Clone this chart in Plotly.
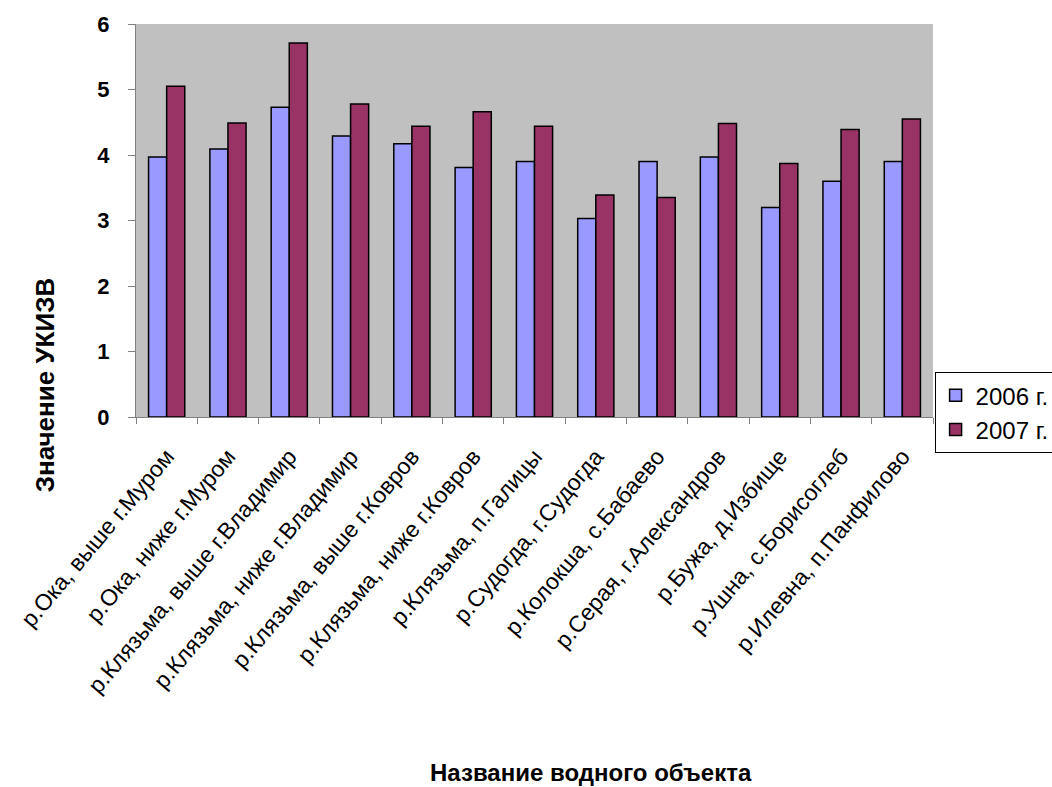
import plotly.graph_objects as go

categories = [
    "р.Ока, выше г.Муром",
    "р.Ока, ниже г.Муром",
    "р.Клязьма, выше г.Владимир",
    "р.Клязьма, ниже г.Владимир",
    "р.Клязьма, выше г.Ковров",
    "р.Клязьма, ниже г.Ковров",
    "р.Клязьма, п.Галицы",
    "р.Судогда, г.Судогда",
    "р.Колокша, с.Бабаево",
    "р.Серая, г.Александров",
    "р.Бужа, д.Избище",
    "р.Ушна, с.Борисоглеб",
    "р.Илевна, п.Панфилово",
]
values_2006 = [3.97, 4.09, 4.73, 4.29, 4.17, 3.81, 3.90, 3.03, 3.90, 3.97, 3.20, 3.60, 3.90]
values_2007 = [5.05, 4.49, 5.71, 4.78, 4.44, 4.66, 4.44, 3.39, 3.35, 4.48, 3.87, 4.39, 4.55]
y_ticks = [0, 1, 2, 3, 4, 5, 6]

FONT = "Liberation Sans, Arial, sans-serif"

fig = go.Figure()
fig.add_trace(go.Bar(
    x=categories, y=values_2006, name="2006 г.",
    marker=dict(color="#9999FF", line=dict(color="#000000", width=1.5)),
))
fig.add_trace(go.Bar(
    x=categories, y=values_2007, name="2007 г.",
    marker=dict(color="#993366", line=dict(color="#000000", width=1.5)),
))

fig.update_layout(
    width=1052, height=787,
    margin=dict(l=136, r=119, t=24, b=370, autoexpand=False),
    paper_bgcolor="white",
    plot_bgcolor="#C0C0C0",
    barmode="group",
    bargap=0.41,
    bargroupgap=0,
    font=dict(family=FONT, color="#000000"),
    legend=dict(
        x=1.002, y=0.114, xanchor="left", yanchor="top",
        bgcolor="white", bordercolor="#000000", borderwidth=1,
        font=dict(family=FONT, size=24, color="#000000"),
        tracegroupgap=8,
    ),
    showlegend=True,
)

fig.update_xaxes(
    type="category",
    tickangle=-50,
    tickfont=dict(family=FONT, size=23, color="#000000"),
    showline=True, linecolor="#808080", linewidth=1,
    ticks="outside", tickson="boundaries", ticklen=6, tickcolor="#808080",
    ticklabelstandoff=16,
    showgrid=False,
)
fig.update_yaxes(
    range=[0, 6],
    tickvals=y_ticks,
    tickfont=dict(family=FONT, size=22, color="#000000", weight="bold"),
    showline=True, linecolor="#808080", linewidth=1,
    ticks="outside", ticklen=7, tickcolor="#808080",
    ticklabelstandoff=14,
    showgrid=False, zeroline=False,
)

fig.add_annotation(
    text="Значение УКИЗВ", textangle=-90,
    xref="paper", yref="paper", x=-0.114, y=0.081,
    xanchor="center", yanchor="middle", showarrow=False,
    font=dict(family=FONT, size=26, color="#000000", weight="bold"),
)
fig.add_annotation(
    text="Название водного объекта",
    xref="paper", yref="paper", x=0.571, y=-0.905,
    xanchor="center", yanchor="middle", showarrow=False,
    font=dict(family=FONT, size=24, color="#000000", weight="bold"),
)

fig.write_html("out.html")
